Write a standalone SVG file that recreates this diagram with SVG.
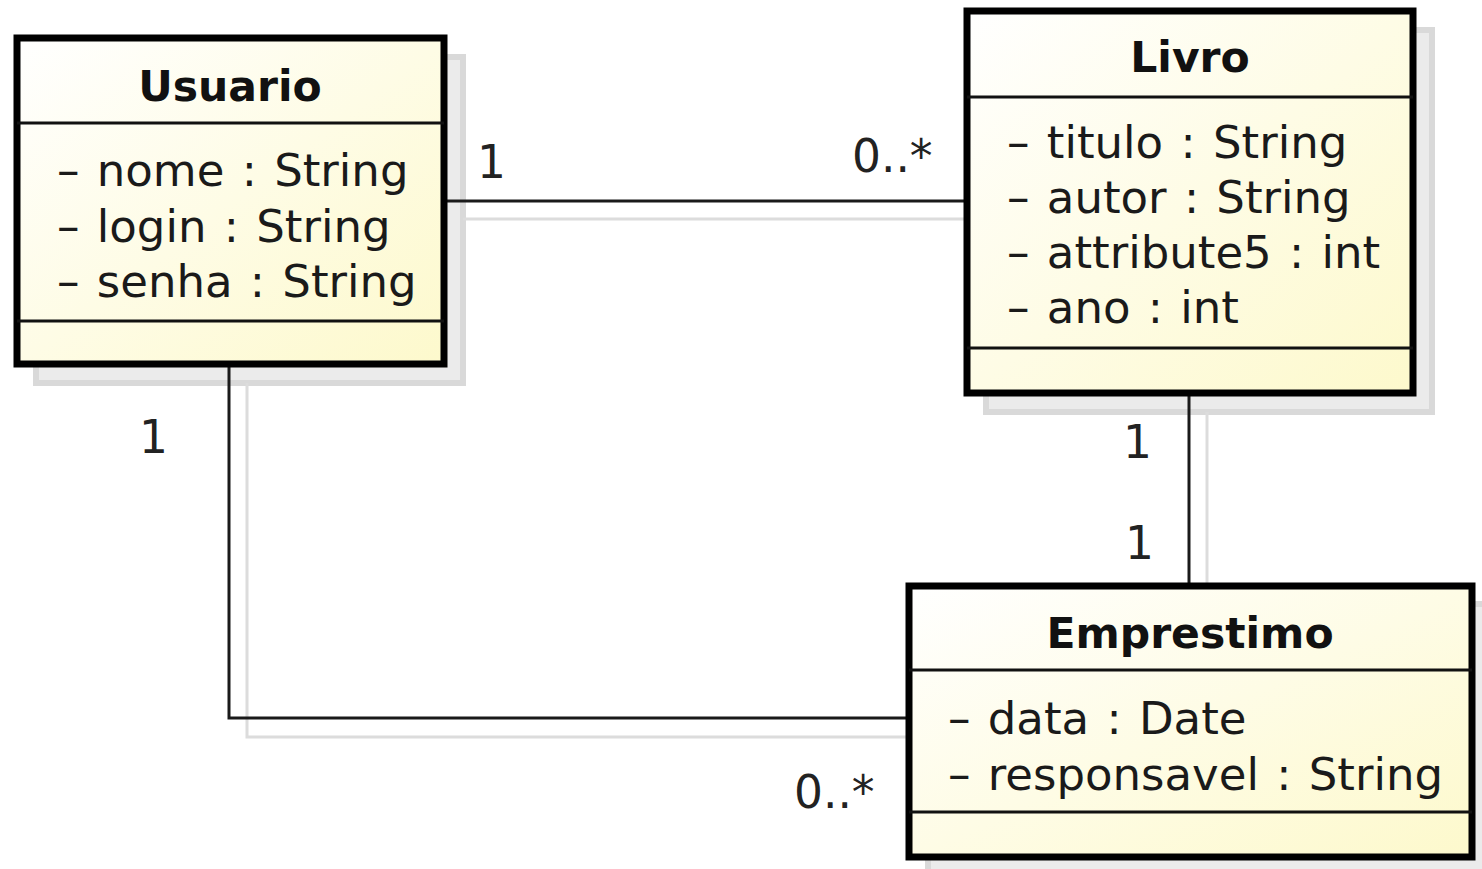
<svg xmlns="http://www.w3.org/2000/svg" width="1482" height="869" viewBox="0 0 1482 869">
<defs>
<linearGradient id="fill" x1="0" y1="0" x2="1" y2="1">
<stop offset="0" stop-color="#ffffff"/>
<stop offset="1" stop-color="#fdf9cc"/>
</linearGradient>
</defs>
<style>
.shadow{fill:#ebebeb;stroke:#d9d9d9;stroke-width:6}
.box{fill:url(#fill);stroke:#000;stroke-width:7}
.div{stroke:#111;stroke-width:3}
.line{fill:none;stroke:#1a1a1a;stroke-width:3}
.sline{fill:none;stroke:#dcdcdc;stroke-width:3}
.title{font-family:"DejaVu Sans",sans-serif;font-weight:bold;font-size:42.5px;fill:#111;text-anchor:middle}
.attr{font-family:"DejaVu Sans",sans-serif;font-size:45px;fill:#1a1a1a;word-spacing:3px}
.lbl{font-family:"DejaVu Sans",sans-serif;font-size:45.5px;fill:#222}
</style>
<rect width="1482" height="869" fill="#ffffff"/>
<g id="shadows">
<rect class="shadow" x="36" y="57" width="427" height="326"/>
<rect class="shadow" x="986" y="30" width="446" height="382"/>
<rect class="shadow" x="928" y="604" width="563" height="271"/>
</g>
<g id="connectors">
<polyline class="sline" points="463,219 987,219"/>
<polyline class="sline" points="247,383 247,737 928,737"/>
<polyline class="sline" points="1207,412 1207,604"/>
<polyline class="line" points="444,201 967,201"/>
<polyline class="line" points="229,364 229,718 909,718"/>
<polyline class="line" points="1189,393 1189,585"/>
<text class="lbl" x="477" y="178">1</text>
<text class="lbl" x="852" y="172">0..*</text>
<text class="lbl" x="139" y="453">1</text>
<text class="lbl" x="794" y="808">0..*</text>
<text class="lbl" x="1123" y="458">1</text>
<text class="lbl" x="1125" y="559">1</text>
</g>
<g id="Usuario">
<rect class="box" x="17" y="38" width="427" height="326"/>
<line class="div" x1="17" y1="123" x2="444" y2="123"/>
<line class="div" x1="17" y1="321" x2="444" y2="321"/>
<text class="title" x="230" y="101">Usuario</text>
<text class="attr" x="57" y="186">– nome : String</text>
<text class="attr" x="57" y="242">– login : String</text>
<text class="attr" x="57" y="297">– senha : String</text>
</g>
<g id="Livro">
<rect class="box" x="967" y="11" width="446" height="382"/>
<line class="div" x1="967" y1="97" x2="1413" y2="97"/>
<line class="div" x1="967" y1="348" x2="1413" y2="348"/>
<text class="title" x="1190" y="72">Livro</text>
<text class="attr" x="1007" y="158">– titulo : String</text>
<text class="attr" x="1007" y="213">– autor : String</text>
<text class="attr" x="1007" y="268">– attribute5 : int</text>
<text class="attr" x="1007" y="323">– ano : int</text>
</g>
<g id="Emprestimo">
<rect class="box" x="909" y="586" width="563" height="271"/>
<line class="div" x1="909" y1="670" x2="1472" y2="670"/>
<line class="div" x1="909" y1="812" x2="1472" y2="812"/>
<text class="title" x="1190" y="648">Emprestimo</text>
<text class="attr" x="948" y="734">– data : Date</text>
<text class="attr" x="948" y="790">– responsavel : String</text>
</g>
</svg>
